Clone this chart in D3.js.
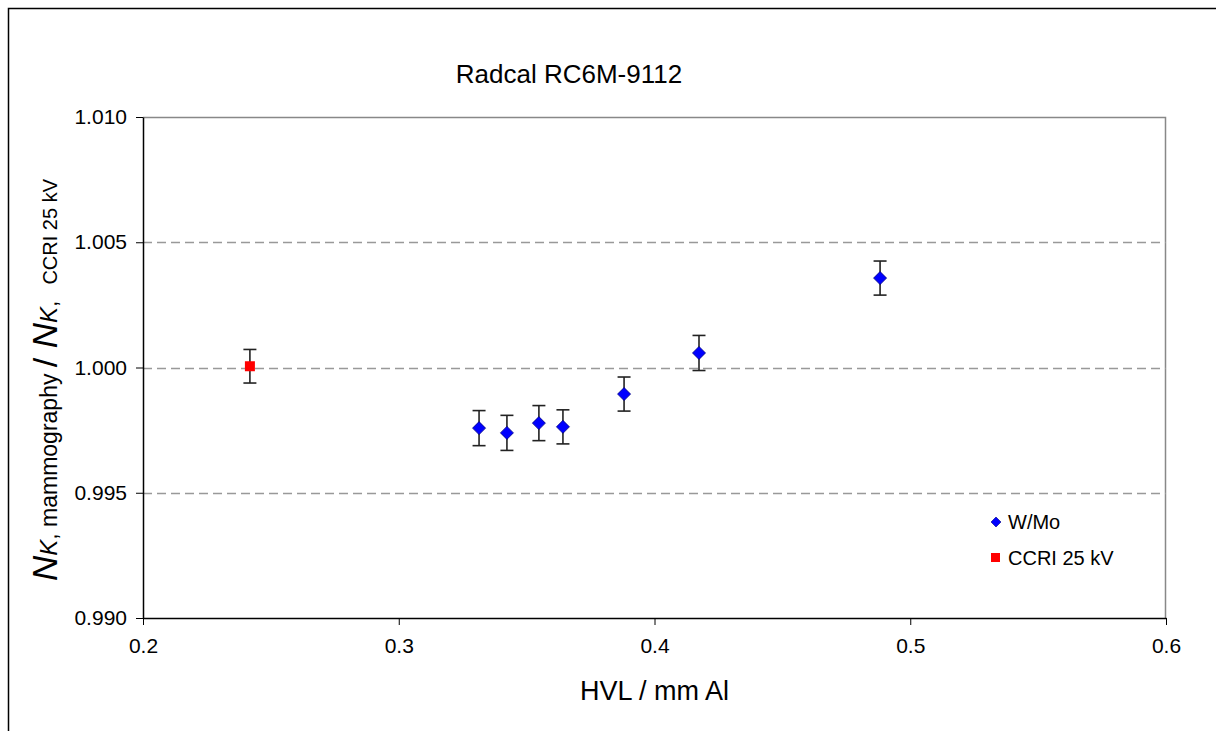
<!DOCTYPE html>
<html>
<head>
<meta charset="utf-8">
<script src="https://cdn.jsdelivr.net/npm/d3@7"></script>
<style>
  body { margin: 0; background: #fff; }
  svg { font-family: "Liberation Sans", Arial, sans-serif; }
</style>
</head>
<body>
<div id="container"></div>
<script>
// Data
var wmoHvl = [0.3314, 0.3423, 0.3548, 0.3642, 0.3881, 0.4174, 0.4882];
var wmoRatio = [0.99758, 0.99739, 0.99778, 0.99763, 0.99894, 1.00058, 1.00357];
var wmoErr = [0.0007, 0.0007, 0.0007, 0.00068, 0.00068, 0.0007, 0.00068];
var ccriHvl = [0.2418];
var ccriRatio = [1.00005];
var ccriErr = [0.00067];
var xTicks = [0.2, 0.3, 0.4, 0.5, 0.6];
var yTicks = [0.990, 0.995, 1.000, 1.005, 1.010];
var gridTicks = [0.995, 1.000, 1.005];

var width = 1216, height = 731;
var margin = {top: 117, right: 50, bottom: 113, left: 143};
var w = width - margin.left - margin.right;
var h = height - margin.top - margin.bottom;

var svg = d3.select("#container")
    .append("svg")
    .attr("width", width)
    .attr("height", height);

// Outer chart frame
svg.append("rect")
    .attr("x", 8.5).attr("y", 8.5)
    .attr("width", width + 20).attr("height", height + 20)
    .attr("fill", "none")
    .attr("stroke", "#000")
    .attr("stroke-width", 1.5);

var g = svg.append("g")
    .attr("transform", "translate(" + margin.left + "," + margin.top + ")");

var x = d3.scaleLinear().domain([0.2, 0.6]).range([0, w]);
var y = d3.scaleLinear().domain([0.990, 1.010]).range([h, 0]);

// Plot area border (top/right grey)
g.append("path")
    .attr("d", "M0,0.5H" + (w - 0.5) + "V" + h)
    .attr("fill", "none")
    .attr("stroke", "#888")
    .attr("stroke-width", 1.5);

// Dashed grid lines
g.selectAll(".grid")
    .data(gridTicks)
    .enter().append("line")
    .attr("x1", 0).attr("x2", w)
    .attr("y1", function(d) { return Math.round(y(d)) + 0.5; })
    .attr("y2", function(d) { return Math.round(y(d)) + 0.5; })
    .attr("stroke", "#999")
    .attr("stroke-width", 1.5)
    .attr("stroke-dasharray", "9,5");

// Axes
var xAxis = g.append("g")
    .attr("transform", "translate(0," + h + ")")
    .call(d3.axisBottom(x).tickValues(xTicks).tickSize(7).tickSizeOuter(0)
        .tickFormat(d3.format(".1f")));
var yAxis = g.append("g")
    .call(d3.axisLeft(y).tickValues(yTicks).tickSize(7).tickSizeOuter(0)
        .tickFormat(d3.format(".3f")));

[xAxis, yAxis].forEach(function(a) {
    a.select(".domain").attr("stroke", "#000").attr("stroke-width", 1.5);
    a.selectAll(".tick line").attr("stroke", "#000");
    a.selectAll("text")
        .attr("font-family", "Liberation Sans, Arial, sans-serif")
        .attr("font-size", 21)
        .attr("fill", "#000");
});
xAxis.selectAll("text").attr("dy", "1.2em");
yAxis.selectAll("text").attr("x", -16);

// Error bars
function errorBars(xs, ys, es, cls) {
    var grp = g.append("g").attr("class", cls);
    var idx = d3.range(xs.length);
    grp.selectAll("line.v").data(idx).enter().append("line")
        .attr("x1", function(i) { return x(xs[i]); })
        .attr("x2", function(i) { return x(xs[i]); })
        .attr("y1", function(i) { return y(ys[i] - es[i]); })
        .attr("y2", function(i) { return y(ys[i] + es[i]); })
        .attr("stroke", "#222").attr("stroke-width", 1.6);
    [-1, 1].forEach(function(s) {
        grp.selectAll("line.c" + (s > 0 ? "p" : "m")).data(idx).enter().append("line")
            .attr("x1", function(i) { return x(xs[i]) - 6.5; })
            .attr("x2", function(i) { return x(xs[i]) + 6.5; })
            .attr("y1", function(i) { return y(ys[i] + s * es[i]); })
            .attr("y2", function(i) { return y(ys[i] + s * es[i]); })
            .attr("stroke", "#222").attr("stroke-width", 1.6);
    });
}
errorBars(wmoHvl, wmoRatio, wmoErr, "err-wmo");
errorBars(ccriHvl, ccriRatio, ccriErr, "err-ccri");

// Markers
g.selectAll(".wmo")
    .data(d3.range(wmoHvl.length))
    .enter().append("path")
    .attr("class", "wmo")
    .attr("d", "M0,-6.5L6.5,0L0,6.5L-6.5,0Z")
    .attr("transform", function(i) { return "translate(" + x(wmoHvl[i]) + "," + y(wmoRatio[i]) + ")"; })
    .attr("fill", "#0000ff")
    .attr("stroke", "#000080")
    .attr("stroke-width", 0.8);

g.selectAll(".ccri")
    .data(d3.range(ccriHvl.length))
    .enter().append("rect")
    .attr("class", "ccri")
    .attr("x", function(i) { return x(ccriHvl[i]) - 5; })
    .attr("y", function(i) { return y(ccriRatio[i]) - 5; })
    .attr("width", 10).attr("height", 10)
    .attr("fill", "#ff0000");

// Title
svg.append("text")
    .attr("x", 569).attr("y", 83)
    .attr("text-anchor", "middle")
    .attr("font-size", 26)
    .text("Radcal RC6M-9112");

// X axis title
svg.append("text")
    .attr("x", margin.left + w / 2).attr("y", 700)
    .attr("text-anchor", "middle")
    .attr("font-size", 27)
    .text("HVL / mm Al");

// Y axis title with mixed sizes
var yl = svg.append("text")
    .attr("transform", "translate(57,380) rotate(-90)")
    .attr("text-anchor", "middle");
yl.append("tspan").attr("font-size", 35).attr("font-style", "italic").text("N");
yl.append("tspan").attr("font-size", 24).attr("font-style", "italic").text("K");
yl.append("tspan").attr("font-size", 23).text(", mammography ");
yl.append("tspan").attr("font-size", 34).text("/ ");
yl.append("tspan").attr("font-size", 35).attr("font-style", "italic").text("N");
yl.append("tspan").attr("font-size", 24).attr("font-style", "italic").text("K");
yl.append("tspan").attr("font-size", 23).text(",");
yl.append("tspan").attr("font-size", 20).attr("dx", 16).text("CCRI 25 kV");

// Legend
var legend = svg.append("g").attr("transform", "translate(996,522)");
legend.append("path")
    .attr("d", "M0,-5L5,0L0,5L-5,0Z")
    .attr("fill", "#0000ff").attr("stroke", "#000080").attr("stroke-width", 0.6);
legend.append("text")
    .attr("x", 12).attr("y", 7)
    .attr("font-size", 20)
    .text("W/Mo");
legend.append("rect")
    .attr("x", -5).attr("y", 31).attr("width", 9).attr("height", 9)
    .attr("fill", "#ff0000");
legend.append("text")
    .attr("x", 12).attr("y", 43)
    .attr("font-size", 20)
    .text("CCRI 25 kV");
</script>
</body>
</html>
